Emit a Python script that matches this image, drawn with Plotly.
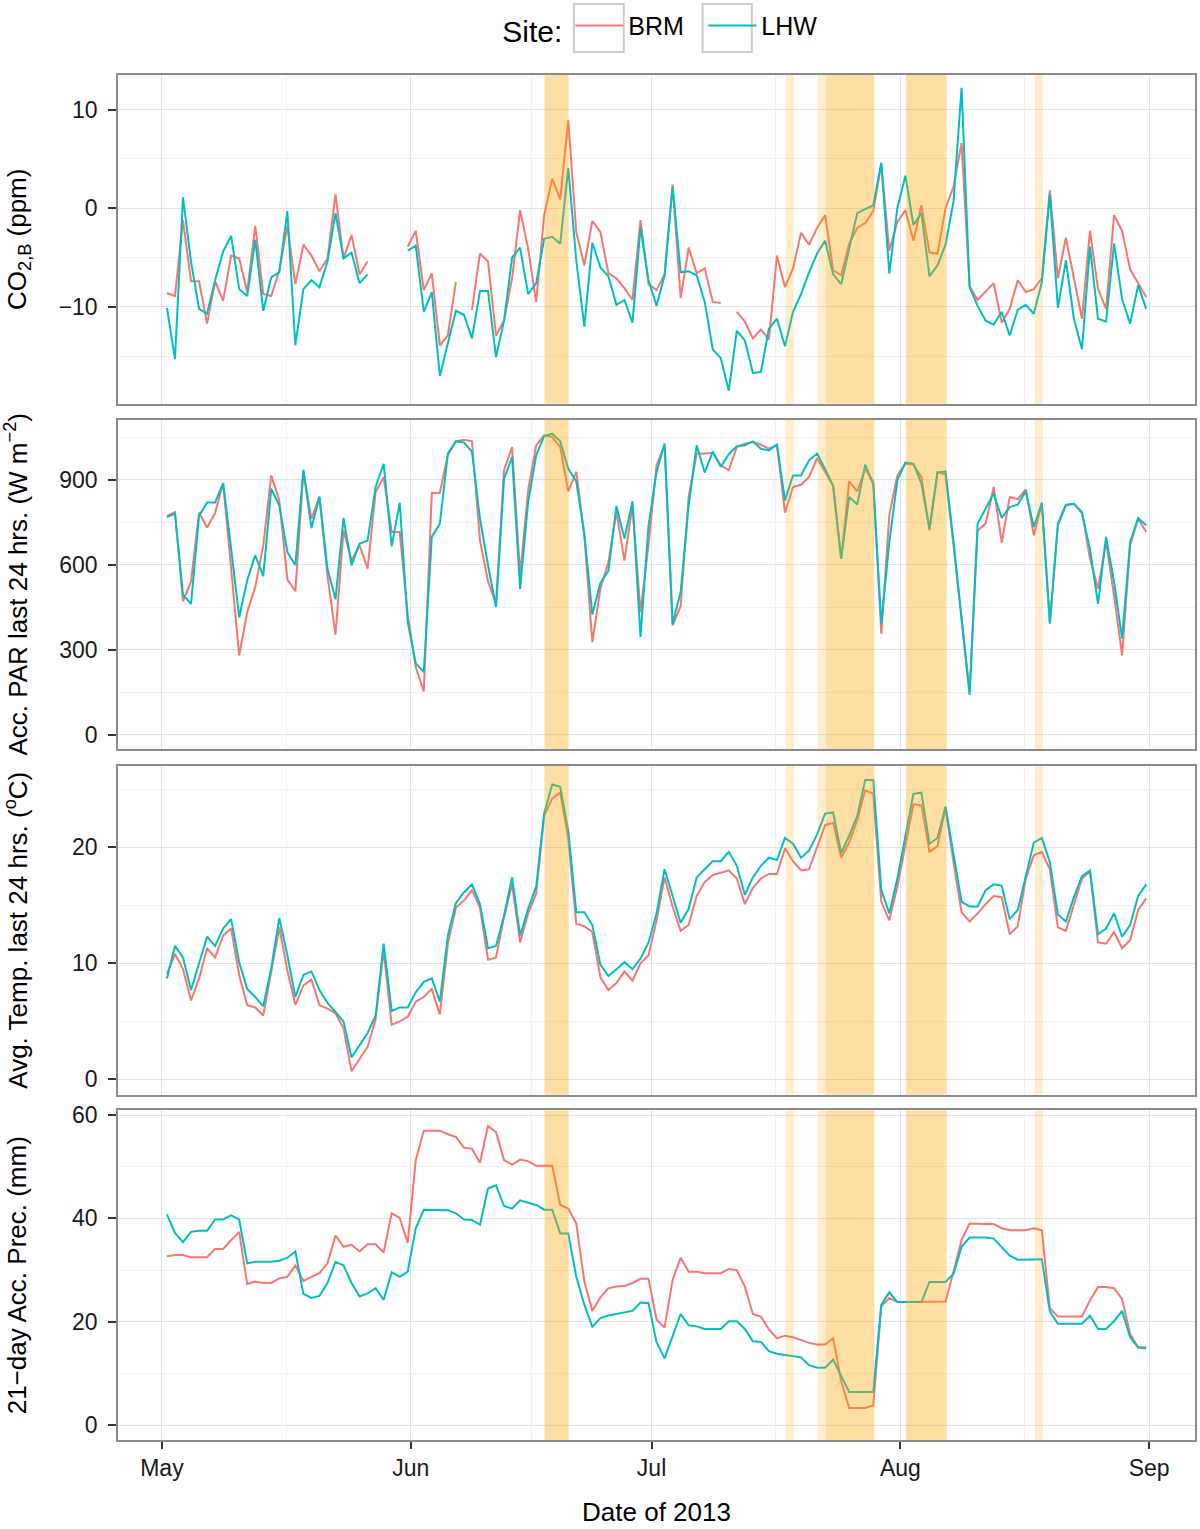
import pandas as pd
import plotly.graph_objects as go
from plotly.subplots import make_subplots

# daily values, 1 May - 31 Aug 2013 (None = missing)
start_day = "2013-05-01 15:00"
n_days = 123

co2_brm = [-8.6, -8.9, -1.2, -7.4, -7.4, -11.7, -7.4, -9.4, -4.8, -5.1, -8.5, -1.8, -8.7, -8.9, -6.3, -1.8,
           -7.7, -3.7, -4.8, -6.4, -5.1, 1.4, -5.1, -2.7, -6.7, -5.4, None, None, None, None,
           -3.9, -2.3, -8.3, -6.6, -13.9, -12.9, -7.5, None, -10.3, -4.6, -5.4, -12.9, -11.4, -7.1, -0.2, -4.1,
           -9.5, -0.7, 3.0, 0.9, 8.9, -2.4, -5.8, -1.3, -2.4, -6.6, -7.1, -8.1, -9.3, -1.2, -7.7,
           -8.3, -6.7, 2.4, -9.1, -4.0, -6.6, -6.1, -9.5, -9.6, None, -10.5, -11.5, -13.2, -12.3, -13.3, -4.8,
           -8.0, -6.1, -2.5, -3.7, -2.0, -0.7, -6.3, -6.8, -3.6, -2.0, -1.5, -0.3, 4.5, -4.3, -1.4,
           -0.2, -3.3, 0.3, -4.5, -4.6, 0.0, 2.2, 6.6, -7.9, -9.3, -8.4, -7.6, -11.6, -10.2, -7.3, -8.5,
           -8.2, -7.1, 1.8, -7.1, -3.0, -7.1, -11.2, -2.3, -8.2, -10.2, -0.7, -2.3, -6.2, -7.6, -9.0]
co2_lhw = [-10.1, -15.3, 1.1, -5.4, -10.2, -10.7, -7.3, -4.4, -2.8, -8.2, -8.9, -3.2, -10.4, -7.0, -6.5, -0.3,
           -13.9, -8.2, -7.3, -8.0, -5.4, -0.5, -5.1, -4.5, -7.6, -6.7, None, None, None, None,
           -4.3, -3.8, -10.5, -8.5, -17.0, -13.8, -10.4, -10.8, -13.2, -8.4, -8.4, -15.1, -11.4, -5.0, -4.0, -8.7,
           -7.6, -3.1, -2.9, -3.6, 4.1, -5.3, -12.0, -3.5, -6.0, -6.9, -9.8, -9.3, -11.6, -2.0, -7.3,
           -9.9, -6.8, 2.2, -6.5, -6.4, -6.8, -9.5, -14.3, -15.2, -18.5, -12.4, -13.4, -16.7, -16.6, -12.2, -11.2,
           -14.0, -10.5, -8.7, -6.5, -4.6, -3.3, -6.7, -7.7, -4.1, -0.5, -0.1, 0.3, 4.6, -6.6, 0.0,
           3.3, -1.7, -0.5, -6.9, -5.8, -3.7, 0.7, 12.2, -8.0, -9.9, -11.4, -11.8, -10.5, -12.9, -10.3, -9.8,
           -10.7, -7.5, 1.4, -10.1, -5.3, -11.2, -14.3, -3.9, -11.2, -11.5, -3.6, -9.2, -11.7, -7.8, -10.2]

par_brm = [772, 786, 471, 541, 784, 731, 782, 888, 586, 280, 433, 521, 668, 915, 827, 548,
           507, 929, 762, 839, 562, 353, 721, 615, 668, 586, 856, 909, 715, 715,
           424, 239, 153, 853, 853, 988, 1035, 1041, 1035, 686, 542, 462, 933, 1015, 565, 862,
           1021, 1056, 1050, 1015, 859, 927, 704, 327, 515, 609, 786, 615, 809, 433, 670,
           951, 1021, 386, 454, 839, 992, 992, 995, 951, 933, 1015, 1027, 1033, 1023, 1009, 1023,
           784, 874, 882, 909, 976, 927, 878, 621, 894, 859, 938, 892, 356, 776, 915,
           956, 953, 909, 721, 927, 918, 668, 409, 151, 721, 745, 874, 678, 839, 831, 866,
           704, 815, 398, 739, 809, 815, 786, 621, 515, 680, 492, 280, 668, 762, 715]
par_lhw = [768, 780, 494, 462, 772, 819, 819, 888, 656, 415, 545, 633, 560, 868, 809, 645,
           598, 935, 729, 840, 586, 478, 765, 598, 674, 686, 874, 956, 665, 818,
           398, 252, 221, 698, 745, 992, 1035, 1031, 999, 762, 598, 451, 903, 980, 515, 821,
           986, 1054, 1062, 1035, 938, 894, 709, 424, 536, 578, 807, 692, 824, 345, 739,
           927, 1027, 392, 504, 809, 1021, 925, 999, 945, 990, 1018, 1021, 1035, 1009, 1003, 1023,
           827, 915, 915, 968, 992, 938, 878, 621, 839, 812, 953, 882, 392, 680, 898,
           960, 956, 886, 727, 925, 929, 680, 409, 141, 745, 798, 851, 765, 803, 812, 859,
           733, 819, 392, 745, 812, 815, 782, 656, 462, 698, 539, 339, 680, 765, 739]

temp_brm = [9.1, 10.8, 9.5, 6.8, 8.7, 11.3, 10.5, 12.4, 13.0, 9.0, 6.4, 6.2, 5.5, 9.4, 13.1, 9.4,
            6.4, 8.1, 8.6, 6.4, 6.1, 5.7, 4.4, 0.7, 1.8, 2.8, 5.2, 11.1, 4.7, 5.0,
            5.4, 6.7, 7.1, 7.8, 5.6, 11.7, 14.8, 15.4, 16.3, 14.8, 10.3, 10.5, 14.0, 16.8, 11.8, 14.3,
            16.0, 22.7, 24.2, 24.7, 20.7, 13.4, 13.2, 12.7, 8.8, 7.7, 8.3, 9.3, 8.5, 10.0, 10.7,
            13.7, 17.4, 14.9, 12.8, 13.3, 15.8, 17.0, 17.6, 17.8, 18.0, 17.3, 15.1, 16.5, 17.3, 17.7, 17.7,
            19.9, 18.8, 18.0, 18.1, 20.0, 21.9, 22.1, 19.1, 20.4, 22.3, 24.9, 24.6, 15.3, 13.7, 16.6,
            20.1, 23.7, 23.6, 19.6, 20.1, 23.4, 18.7, 14.4, 13.6, 14.3, 15.1, 15.8, 15.7, 12.5, 13.2, 17.3,
            19.3, 19.6, 18.1, 13.1, 12.8, 15.1, 17.3, 17.9, 11.8, 11.7, 12.7, 11.3, 12.0, 14.6, 15.6]
temp_lhw = [8.7, 11.5, 10.5, 7.7, 10.0, 12.3, 11.5, 13.0, 13.8, 10.1, 7.8, 7.1, 6.3, 9.6, 13.9, 10.7,
            7.1, 9.0, 9.3, 7.7, 6.6, 5.8, 5.0, 1.9, 3.0, 4.0, 5.5, 11.7, 5.9, 6.2,
            6.2, 7.5, 8.4, 8.7, 6.7, 12.4, 15.2, 16.1, 16.8, 15.1, 11.3, 11.5, 14.1, 17.4, 12.4, 14.7,
            16.6, 22.9, 25.4, 25.2, 21.4, 14.4, 14.4, 13.3, 9.9, 8.9, 9.5, 10.1, 9.5, 10.4, 11.8,
            14.3, 18.1, 15.7, 13.5, 14.7, 17.4, 18.1, 18.8, 18.8, 19.6, 18.4, 15.9, 17.4, 18.4, 19.1, 18.9,
            20.8, 20.3, 19.1, 19.7, 21.1, 22.9, 23.0, 19.5, 21.0, 22.7, 25.8, 25.8, 16.3, 14.3, 17.3,
            21.1, 24.6, 24.7, 20.3, 20.8, 23.5, 19.4, 15.3, 14.9, 14.9, 16.3, 16.8, 16.7, 13.8, 14.6, 17.4,
            20.4, 20.8, 18.7, 14.2, 13.6, 15.7, 17.5, 18.0, 12.5, 13.0, 14.3, 12.3, 13.3, 15.8, 16.8]

prec_brm = [32.7, 32.9, 32.9, 32.5, 32.5, 32.5, 34.1, 34.1, 35.8, 37.4, 27.3, 27.8, 27.5, 27.5, 28.4, 28.7,
            30.9, 27.9, 28.7, 29.4, 31.3, 36.7, 34.5, 34.9, 33.6, 35.0, 35.0, 33.4, 41.0, 40.1,
            35.3, 51.3, 57.0, 57.0, 57.0, 56.3, 55.8, 53.7, 53.5, 50.8, 57.9, 56.7, 51.3, 50.4, 51.4, 51.1,
            50.2, 50.2, 50.2, 42.6, 41.9, 39.0, 27.8, 22.1, 24.7, 26.5, 26.8, 26.9, 27.5, 28.3, 28.3,
            20.4, 18.9, 28.1, 32.4, 29.7, 29.7, 29.4, 29.4, 29.4, 30.2, 30.0, 26.8, 21.5, 21.0, 18.5, 16.8,
            17.3, 17.0, 16.5, 15.9, 15.6, 15.6, 16.8, 8.5, 3.3, 3.3, 3.3, 3.8, 23.0, 24.6, 23.8,
            23.8, 23.8, 23.8, 23.8, 23.8, 23.9, 29.7, 35.8, 39.0, 38.9, 38.9, 38.9, 38.1, 37.7, 37.7, 37.7,
            38.1, 37.7, 22.6, 21.0, 21.0, 21.0, 21.0, 24.1, 26.7, 26.7, 26.5, 24.4, 17.6, 15.0, 14.8]
prec_lhw = [40.8, 37.2, 35.4, 37.4, 37.6, 37.6, 39.8, 39.8, 40.6, 39.8, 31.3, 31.6, 31.6, 31.6, 31.8, 32.4,
            33.6, 25.4, 24.6, 25.0, 27.5, 31.6, 30.9, 27.5, 24.9, 25.5, 26.5, 24.2, 29.6, 28.7,
            29.7, 38.1, 41.7, 41.7, 41.7, 41.6, 41.0, 39.8, 39.7, 38.8, 45.8, 46.4, 42.4, 41.9, 43.5, 43.1,
            42.6, 41.7, 41.7, 37.1, 37.1, 28.7, 23.3, 19.0, 20.7, 21.2, 21.5, 21.8, 22.1, 23.7, 23.6,
            16.0, 12.9, 17.2, 21.5, 19.3, 19.1, 18.6, 18.6, 18.6, 20.1, 20.1, 18.6, 16.2, 16.1, 14.3, 13.8,
            13.6, 13.4, 13.1, 11.6, 11.1, 11.1, 12.7, 9.5, 6.4, 6.4, 6.4, 6.4, 23.3, 25.7, 23.8,
            23.8, 23.8, 23.8, 27.7, 27.7, 27.7, 29.3, 34.5, 36.3, 36.3, 36.3, 36.1, 34.5, 32.8, 32.0, 32.0,
            32.1, 32.1, 22.0, 19.6, 19.6, 19.6, 19.6, 21.2, 18.6, 18.6, 20.1, 22.1, 17.0, 15.0, 15.0]

# event periods (shaded); overlapping periods show darker
event_start = ["2013-06-17 16:00", "2013-06-17 16:00", "2013-07-17 17:00", "2013-07-21 17:00",
               "2013-07-22 18:00", "2013-08-01 17:00", "2013-08-01 17:00", "2013-08-17 18:00"]
event_end = ["2013-06-20 16:00", "2013-06-20 16:00", "2013-07-18 17:00", "2013-07-28 18:00",
             "2013-07-28 18:00", "2013-08-06 18:00", "2013-08-06 18:00", "2013-08-18 18:00"]

month_ticks = ["2013-05-01", "2013-06-01", "2013-07-01", "2013-08-01", "2013-09-01"]
month_labels = ["May", "Jun", "Jul", "Aug", "Sep"]
mid_month = ["2013-05-16 12:00", "2013-06-16", "2013-07-16 12:00", "2013-08-16 12:00"]

dates = pd.date_range(start_day, periods=n_days, freq="D")

colors = {"BRM": "#F8766D", "LHW": "#00BFC4"}
panels = [
    (co2_brm, co2_lhw, "CO<sub>2,B</sub> (ppm)", [-19.8, 13.5], 10),
    (par_brm, par_lhw, "Acc. PAR last 24 hrs. (W m<sup>−2</sup>)", [-50, 1112], 300),
    (temp_brm, temp_lhw, "Avg. Temp. last 24 hrs. (<sup>o</sup>C)", [-1.3, 27.0], 10),
    (prec_brm, prec_lhw, "21−day Acc. Prec. (mm)", [-2.9, 60.9], 20),
]
domains = [[0.7593, 1.0], [0.5062, 0.7476], [0.2531, 0.4938], [0.0, 0.2414]]
standoffs = [25, 25, 39, 38]

fig = make_subplots(rows=4, cols=1, shared_xaxes=True, vertical_spacing=0.012)

font = "Liberation Sans, Arial, sans-serif"
for i, (brm, lhw, title, yr, dt) in enumerate(panels):
    row = i + 1
    for name, vals in (("BRM", brm), ("LHW", lhw)):
        fig.add_trace(go.Scatter(
            x=dates, y=vals, mode="lines", name=name,
            line=dict(color=colors[name], width=2),
            connectgaps=False, showlegend=(i == 0),
            legendgroup=name,
        ), row=row, col=1)
    fig.update_yaxes(
        row=row, col=1, domain=domains[i], range=yr, dtick=dt,
        title=dict(text=title, font=dict(size=26, color="black"), standoff=standoffs[i]),
        showgrid=True, gridcolor="#E3E3E3", gridwidth=1.2,
        minor=dict(dtick=dt / 2, showgrid=True, gridcolor="#F2F2F2", gridwidth=1),
        zeroline=False, showline=True, mirror=True, linecolor="#8C8C8C", linewidth=1.5,
        ticks="outside", ticklen=8, tickcolor="#333333", tickwidth=2,
        tickfont=dict(size=23, color="#1A1A1A"), ticklabelstandoff=6,
    )
    fig.update_xaxes(
        row=row, col=1,
        range=["2013-04-25 12:40", "2013-09-06 17:00"],
        tickvals=month_ticks, ticktext=month_labels,
        showgrid=True, gridcolor="#E3E3E3", gridwidth=1.2,
        minor=dict(tickvals=mid_month, showgrid=True, gridcolor="#F2F2F2", gridwidth=1),
        zeroline=False, showline=True, mirror=True, linecolor="#8C8C8C", linewidth=1.5,
        ticks="outside" if row == 4 else "", ticklen=7, tickcolor="#333333", tickwidth=2,
        tickfont=dict(size=23, color="#1A1A1A"), ticklabelstandoff=0,
        showticklabels=(row == 4),
    )
    ax = "" if row == 1 else str(row)
    for s, e in zip(event_start, event_end):
        fig.add_shape(type="rect", xref="x" + ax, yref="y" + ax + " domain",
                      x0=s, x1=e, y0=0, y1=1, fillcolor="rgba(255,165,0,0.2)",
                      line=dict(width=0), layer="above")

fig.update_xaxes(row=4, col=1, title=dict(text="Date of 2013", font=dict(size=26, color="black"),
                                          standoff=22))

# grey key boxes of the legend
for x0, x1 in ((0.4233, 0.4696), (0.5428, 0.5885)):
    fig.add_shape(type="rect", xref="paper", yref="paper", x0=x0, x1=x1, y0=1.0168, y1=1.0521,
                  line=dict(color="#CCCCCC", width=2), fillcolor="rgba(0,0,0,0)")

fig.update_layout(
    width=1200, height=1529,
    margin=dict(l=118, r=3, t=73, b=89),
    plot_bgcolor="white", paper_bgcolor="white",
    font=dict(family=font, color="black"),
    legend=dict(
        title=dict(text="Site:", font=dict(size=30), side="left"),
        orientation="h", x=0.355, xanchor="left", y=1.053, yanchor="top",
        font=dict(size=25), itemwidth=48, entrywidth=70, bgcolor="rgba(0,0,0,0)",
    ),
)

fig.write_html("out.html", config={"displayModeBar": False},
               post_script="document.body.style.margin='0';")
